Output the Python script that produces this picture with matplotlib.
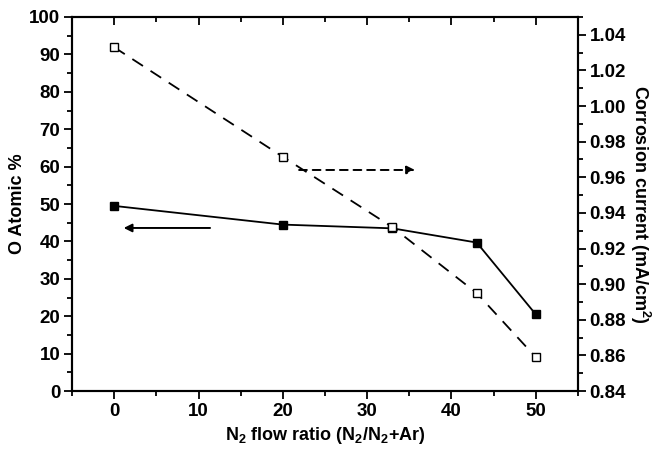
import numpy as np
import matplotlib
matplotlib.use('Agg')
import matplotlib.pyplot as plt
from matplotlib.ticker import MultipleLocator

plt.rcParams['font.family'] = 'Liberation Sans'
plt.rcParams['font.weight'] = 'bold'
plt.rcParams['mathtext.fontset'] = 'custom'
plt.rcParams['mathtext.rm'] = 'Liberation Sans:bold'
plt.rcParams['mathtext.default'] = 'regular'

# data
n2_ratio = [0, 20, 33, 43, 50]
o_atomic = [49.5, 44.5, 43.5, 39.7, 20.5]
corrosion = [1.033, 0.9715, 0.932, 0.895, 0.859]

fig = plt.figure(figsize=(6.56, 4.59), dpi=100)
ax = fig.add_axes([0.1098, 0.148, 0.7712, 0.815])
ax2 = ax.twinx()

ax.plot(n2_ratio, o_atomic, color='black', lw=1.3, marker='s', ms=6,
        mfc='black', mec='black')
ax2.plot(n2_ratio, corrosion, color='black', lw=1.3, ls=(0, (7, 5)), marker='s', ms=6,
         mfc='white', mec='black', mew=1.0)

# arrows pointing to axes
ax.annotate('', xy=(0.8, 43.6), xytext=(11.7, 43.6),
            arrowprops=dict(arrowstyle='-|>', color='black', lw=1.4, mutation_scale=12))
ax.annotate('', xy=(36.0, 59.1), xytext=(21.6, 59.1),
            arrowprops=dict(arrowstyle='-|>', color='black', lw=1.4, ls=(0, (4, 3)),
                            mutation_scale=12))

ax.set_xlim(-5, 55)
ax.set_ylim(0, 100)
ax2.set_ylim(0.84, 1.05)

ax.xaxis.set_major_locator(MultipleLocator(10))
ax.xaxis.set_minor_locator(MultipleLocator(5))
ax.yaxis.set_major_locator(MultipleLocator(10))
ax.yaxis.set_minor_locator(MultipleLocator(5))
ax2.yaxis.set_major_locator(MultipleLocator(0.02))
ax2.yaxis.set_minor_locator(MultipleLocator(0.01))
ax2.yaxis.set_major_formatter(plt.FormatStrFormatter('%.2f'))

ax.tick_params(axis='x', which='both', direction='out', top=False)
ax.tick_params(axis='y', which='both', direction='out', right=False)
ax.tick_params(which='major', length=6, width=1.3, labelsize=13.5, pad=2.5)
ax.tick_params(which='minor', length=3.5, width=1.3)
ax2.tick_params(which='major', direction='out', length=6, width=1.3, labelsize=13.5, pad=2.5)
ax2.tick_params(which='minor', direction='out', length=3.5, width=1.3)

# top ticks inward
sec = ax.secondary_xaxis('top')
sec.set_xticks(np.arange(0, 51, 10))
sec.xaxis.set_minor_locator(MultipleLocator(5))
sec.tick_params(which='both', direction='in', labeltop=False)
sec.tick_params(which='major', length=6, width=1.3)
sec.tick_params(which='minor', length=3.5, width=1.3)
sec.spines['top'].set_visible(False)

for a in (ax, ax2):
    for s in a.spines.values():
        s.set_linewidth(1.5)

ax.set_ylabel('O Atomic %', fontsize=13, fontweight='bold', va='center')
ax.yaxis.set_label_coords(-0.107, 0.5)
ax2.set_ylabel('Corrosion current (mA/cm$^2$)', fontsize=13, fontweight='bold',
               rotation=270, va='center')
ax2.yaxis.set_label_coords(1.122, 0.5)
ax.set_xlabel('N$_2$ flow ratio (N$_2$/N$_2$+Ar)', fontsize=13, fontweight='bold',
              va='center')
ax.xaxis.set_label_coords(0.5, -0.118)

fig.savefig('out.png', dpi=100)
